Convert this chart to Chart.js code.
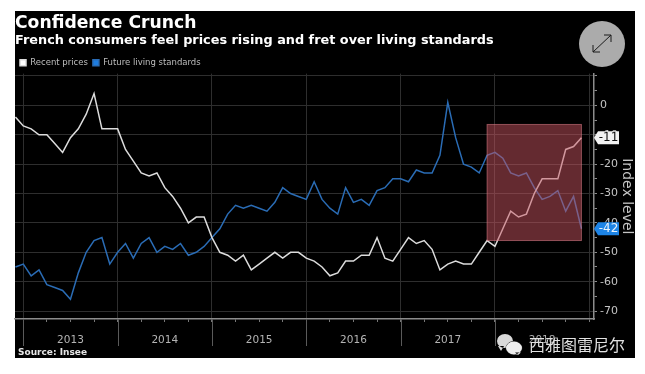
<!DOCTYPE html>
<html>
<head>
<meta charset="utf-8">
<title>Confidence Crunch</title>
<script src="https://cdn.jsdelivr.net/npm/chart.js@4"></script>
<style>
    html, body { margin: 0; padding: 0; background: #fff; }
    #wrap { width: 645px; height: 374px; }
</style>
</head>
<body>
<div id="wrap"><canvas id="chart"></canvas></div>
<script>
// Monthly values, Dec 2012 to Dec 2018
const recentPrices = [-4, -7, -8, -10, -10, -13, -16, -11, -8, -3, 4, -8, -8, -8, -15, -19, -23, -24, -23, -28,
    -31, -35, -40, -38, -38, -45, -50, -51, -53, -51, -56, -54, -52, -50, -52, -50, -50, -52, -53, -55,
    -58, -57, -53, -53, -51, -51, -45, -52, -53, -49, -45, -47, -46, -49, -56, -54, -53, -54, -54, -50,
    -46, -48, -42, -36, -38, -37, -30, -25, -25, -25, -15, -14, -11];
const futureLiving = [-55, -54, -58, -56, -61, -62, -63, -66, -57, -50, -46, -45, -54, -50, -47, -52, -47, -45, -50, -48,
    -49, -47, -51, -50, -48, -45, -42, -37, -34, -35, -34, -35, -36, -33, -28, -30, -31, -32, -26, -32,
    -35, -37, -28, -33, -32, -34, -29, -28, -25, -25, -26, -22, -23, -23, -17, 1, -11, -20, -21, -23,
    -17, -16, -18, -23, -24, -23, -28, -32, -31, -29, -36, -31, -42];
const yearLabels = ['2013', '2014', '2015', '2016', '2017', '2018'];

// Shaded box in data units (months since Jan 2013, index level)
const boxMonths = [59, 71];
const boxLevels = [-6.5, -46];

const monthOf = i => i - 1;
const toPoints = arr => arr.map((v, i) => ({ x: monthOf(i), y: v }));

function callout(ctx, yPx, text, bg, fg) {
    const x0 = 595, x1 = 619, h = 13;
    ctx.save();
    ctx.fillStyle = bg;
    ctx.beginPath();
    ctx.moveTo(x0 - 1, yPx);
    ctx.lineTo(x0 + 3, yPx - h / 2);
    ctx.lineTo(x1, yPx - h / 2);
    ctx.lineTo(x1, yPx + h / 2);
    ctx.lineTo(x0 + 3, yPx + h / 2);
    ctx.closePath();
    ctx.fill();
    ctx.fillStyle = fg;
    ctx.font = '12px "DejaVu Sans"';
    ctx.textAlign = 'center';
    ctx.textBaseline = 'middle';
    ctx.fillText(text, (x0 + x1) / 2 + 1.5, yPx + 0.5);
    ctx.restore();
}

function bubble(ctx, cx, cy, rx, ry, tailX, tailY) {
    ctx.beginPath();
    ctx.ellipse(cx, cy, rx, ry, 0, 0, Math.PI * 2);
    ctx.moveTo(tailX - 3, cy + ry - 2);
    ctx.lineTo(tailX, tailY);
    ctx.lineTo(tailX + 3, cy + ry - 2);
    ctx.fill();
}

const panelPlugin = {
    id: 'panel',
    beforeDraw(chart) {
        const ctx = chart.ctx;
        ctx.save();
        ctx.fillStyle = '#000';
        ctx.fillRect(15, 11, 620, 347);
        ctx.restore();
    }
};

const extrasPlugin = {
    id: 'extras',
    afterDatasetsDraw(chart) {
        // red box sits on top of the lines
        const { x, y } = chart.scales;
        const ctx = chart.ctx;
        const left = x.getPixelForValue(boxMonths[0]);
        const right = x.getPixelForValue(boxMonths[1]);
        const top = y.getPixelForValue(boxLevels[0]);
        const bottom = y.getPixelForValue(boxLevels[1]);
        ctx.save();
        ctx.fillStyle = 'rgba(200, 84, 96, 0.5)';
        ctx.fillRect(left, top, right - left, bottom - top);
        ctx.strokeStyle = 'rgba(225, 130, 140, 0.55)';
        ctx.lineWidth = 1;
        ctx.strokeRect(left, top, right - left, bottom - top);
        ctx.restore();
    },
    afterDraw(chart) {
        const { x, y } = chart.scales;
        const ctx = chart.ctx;
        const area = chart.chartArea;

        // long year ticks under the axis
        ctx.save();
        ctx.strokeStyle = '#5a5a5a';
        ctx.lineWidth = 1;
        yearLabels.forEach((_, i) => {
            const px = Math.round(x.getPixelForValue(i * 12)) + 0.5;
            ctx.beginPath();
            ctx.moveTo(px, area.bottom);
            ctx.lineTo(px, 346);
            ctx.stroke();
        });
        ctx.restore();

        callout(ctx, y.getPixelForValue(recentPrices[recentPrices.length - 1]), '-11', '#f2f2f2', '#111');
        callout(ctx, y.getPixelForValue(futureLiving[futureLiving.length - 1]), '-42', '#1d84e6', '#e8f2fc');

        // source
        ctx.save();
        ctx.fillStyle = '#e6e6e6';
        ctx.font = 'bold 9px "DejaVu Sans"';
        ctx.textBaseline = 'middle';
        ctx.fillText('Source: Insee', 18, 353);
        ctx.restore();

        // expand button
        ctx.save();
        ctx.fillStyle = '#ababab';
        ctx.beginPath();
        ctx.arc(602, 44, 23, 0, Math.PI * 2);
        ctx.fill();
        ctx.strokeStyle = '#1a1a1a';
        ctx.lineWidth = 1;
        ctx.beginPath();
        ctx.moveTo(593, 52);
        ctx.lineTo(611, 35);
        ctx.moveTo(604, 35);
        ctx.lineTo(611, 35);
        ctx.lineTo(611, 42);
        ctx.moveTo(593, 45);
        ctx.lineTo(593, 52);
        ctx.lineTo(600, 52);
        ctx.stroke();
        ctx.restore();

        // watermark
        ctx.save();
        ctx.fillStyle = '#d9d9d9';
        bubble(ctx, 505, 341, 8, 7, 501, 351);
        ctx.strokeStyle = '#222';
        ctx.fillStyle = '#eeeeee';
        ctx.beginPath();
        ctx.ellipse(514, 348, 8, 6.5, 0, 0, Math.PI * 2);
        ctx.stroke();
        bubble(ctx, 514, 348, 8, 6.5, 518, 355);
        ctx.font = '16px "Noto Sans CJK SC"';
        ctx.textBaseline = 'middle';
        ctx.shadowColor = 'rgba(0,0,0,0.8)';
        ctx.shadowBlur = 2;
        ctx.fillStyle = '#e2e2e2';
        ctx.fillText('西雅图雷尼尔', 529, 345);
        ctx.restore();
    }
};

new Chart(document.getElementById('chart'), {
    type: 'line',
    data: {
        datasets: [{
            label: 'Recent prices',
            data: toPoints(recentPrices),
            borderColor: '#dcdcdc',
            backgroundColor: '#ffffff',
            borderWidth: 1.5,
            pointRadius: 0,
            tension: 0
        }, {
            label: 'Future living standards',
            data: toPoints(futureLiving),
            borderColor: '#2a6cb5',
            backgroundColor: '#1d7de0',
            borderWidth: 1.5,
            pointRadius: 0,
            tension: 0
        }]
    },
    options: {
        responsive: true,
        maintainAspectRatio: false,
        animation: false,
        layout: { padding: { left: 15, right: 10, top: 15, bottom: 16 } },
        plugins: {
            tooltip: { enabled: false },
            title: {
                display: true,
                text: 'Confidence Crunch',
                align: 'start',
                color: '#fff',
                font: { family: 'DejaVu Sans', weight: 'bold', size: 17.2, lineHeight: 1 },
                padding: { top: 0, bottom: 1 }
            },
            subtitle: {
                display: true,
                text: 'French consumers feel prices rising and fret over living standards',
                align: 'start',
                color: '#fff',
                font: { family: 'DejaVu Sans', weight: 'bold', size: 12.85 },
                padding: { top: 0, bottom: 5 }
            },
            legend: {
                display: true,
                position: 'top',
                align: 'start',
                maxHeight: 20,
                labels: {
                    boxWidth: 6,
                    boxHeight: 6,
                    padding: 5,
                    color: '#bdbdbd',
                    font: { family: 'DejaVu Sans', size: 8.5 }
                }
            }
        },
        scales: {
            x: {
                type: 'linear',
                min: -1.056,
                max: 72.6,
                border: { color: '#8c8c8c', width: 1.5 },
                grid: {
                    color: c => (c.tick && c.tick.value % 12 === 0 ? '#2e2e2e' : 'transparent'),
                    tickColor: '#777',
                    tickLength: 3
                },
                ticks: {
                    stepSize: 3,
                    includeBounds: false,
                    autoSkip: false,
                    maxRotation: 0,
                    padding: 12,
                    color: '#b4b4b4',
                    font: { family: 'DejaVu Sans', size: 10.5 },
                    callback: v => (v % 12 === 6 ? yearLabels[(v - 6) / 12] : '')
                },
                afterFit: s => { s.height = 39; }
            },
            y: {
                position: 'right',
                min: -72.7,
                max: 10.8,
                border: { color: '#8c8c8c', width: 1.5 },
                grid: {
                    color: c => (c.tick && c.tick.value % 10 === 0 ? '#2e2e2e' : 'transparent'),
                    tickColor: '#8c8c8c',
                    tickLength: 3
                },
                ticks: {
                    stepSize: 5,
                    includeBounds: false,
                    autoSkip: false,
                    padding: 3,
                    color: '#c4c4c4',
                    font: { family: 'DejaVu Sans', size: 11 },
                    callback: v => (v % 10 === 0 && v <= 0 ? String(v) : '')
                },
                title: {
                    display: true,
                    text: 'Index level',
                    color: '#c4c4c4',
                    font: { family: 'DejaVu Sans', size: 14 },
                    padding: 0
                },
                afterFit: s => { s.width = 41; }
            }
        }
    },
    plugins: [panelPlugin, extrasPlugin]
});
</script>
</body>
</html>
